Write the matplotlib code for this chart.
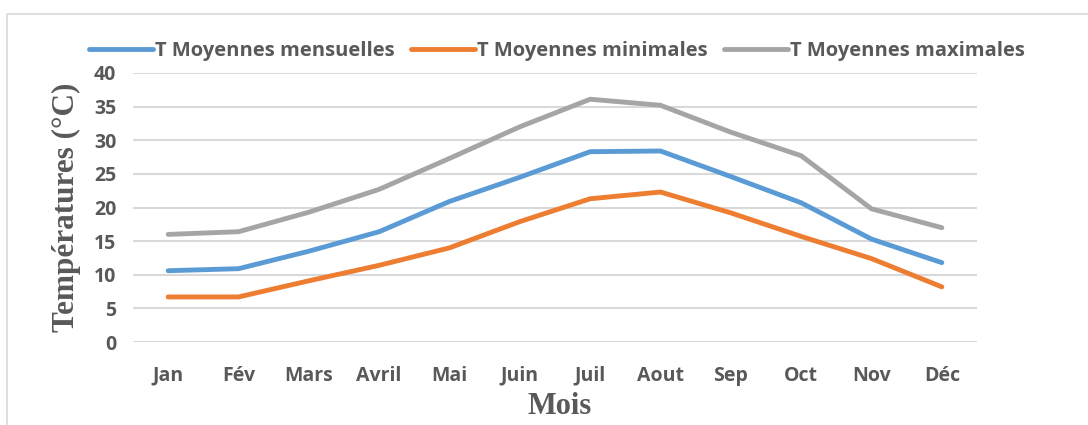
import numpy as np
import matplotlib.pyplot as plt
from matplotlib.patches import Rectangle

# monthly temperatures (deg C)
mois = ['Jan', 'Fév', 'Mars', 'Avril', 'Mai', 'Juin', 'Juil', 'Aout', 'Sep', 'Oct', 'Nov', 'Déc']
t_moy = [10.6, 10.9, 13.5, 16.4, 20.9, 24.5, 28.3, 28.4, 24.6, 20.7, 15.3, 11.8]
t_min = [6.7, 6.7, 9.1, 11.4, 14.0, 17.9, 21.3, 22.3, 19.2, 15.7, 12.4, 8.2]
t_max = [16.0, 16.4, 19.3, 22.7, 27.3, 32.0, 36.1, 35.2, 31.2, 27.7, 19.8, 17.0]
y_ticks = [0, 5, 10, 15, 20, 25, 30, 35, 40]

grey_txt = '#595959'
tick_font = 'Open Sans'

fig = plt.figure(figsize=(10.88, 4.25), dpi=100)
ax = fig.add_axes([133/1088, 1 - 342/425, (977 - 133)/1088, (342 - 73)/425])

# chart border
fig.patches.append(Rectangle((7/1088, -0.1), 1.2, 1 - 14/425 + 0.1, transform=fig.transFigure,
                             fill=False, edgecolor='#D9D9D9', lw=1.2))

x = np.arange(len(mois))
ax.plot(x, t_moy, color='#5B9BD5', lw=3.5, solid_capstyle='round', solid_joinstyle='round',
        label='T Moyennes mensuelles')
ax.plot(x, t_min, color='#ED7D31', lw=3.5, solid_capstyle='round', solid_joinstyle='round',
        label='T Moyennes minimales')
ax.plot(x, t_max, color='#A5A5A5', lw=3.5, solid_capstyle='round', solid_joinstyle='round',
        label='T Moyennes maximales')

ax.set_xlim(-0.5, len(mois) - 0.5)
ax.set_ylim(0, 40)
ax.set_yticks(y_ticks)
ax.set_xticks(x)
ax.set_xticklabels(mois)
ax.grid(axis='y', color='#D9D9D9', lw=1.5)
ax.set_axisbelow(True)
for s in ax.spines.values():
    s.set_visible(False)
ax.tick_params(length=0, labelcolor=grey_txt, labelsize=14)
ax.tick_params(axis='x', pad=17)
ax.tick_params(axis='y', pad=12)
for lbl in ax.get_xticklabels() + ax.get_yticklabels():
    lbl.set_family(tick_font)
    lbl.set_fontweight('bold')

ax.set_ylabel('Températures (°C)', family='Liberation Serif', fontweight='bold',
              fontsize=22.5, color=grey_txt)
ax.yaxis.set_label_coords((81 - 133)/844, 0.5)
fig.text(560/1088, 1 - 407/425, 'Mois', family='Liberation Serif', fontweight='bold',
         fontsize=22, color=grey_txt, ha='center', va='center')

leg = fig.legend(loc='center', bbox_to_anchor=(557/1088, 1 - 51/425), ncol=3, frameon=False,
                 handlelength=3.2, handletextpad=0.1, columnspacing=0.8,
                 prop={'family': tick_font, 'weight': 'bold', 'size': 14.5})
for t in leg.get_texts():
    t.set_color(grey_txt)
for h in leg.legend_handles:
    h.set_solid_capstyle('round')

fig.savefig('out.png', dpi=100)
